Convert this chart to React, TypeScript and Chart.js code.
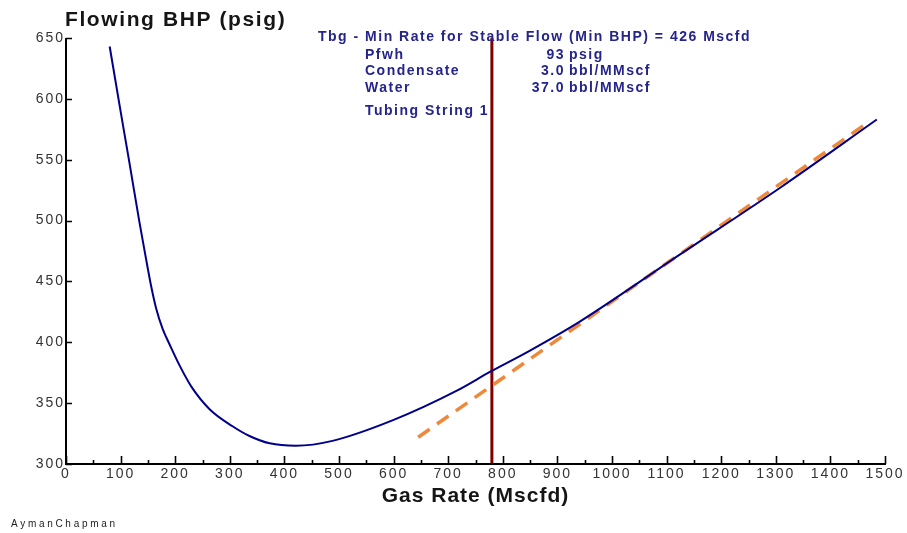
import React, { useEffect, useRef } from "react";
import { Chart, registerables } from "chart.js";

Chart.register(...registerables);

// Tubing performance curve: flowing bottom-hole pressure vs gas rate
const curveRate = [80, 98, 116, 134, 146, 156, 165, 177, 190, 208, 229, 263, 305, 336, 373, 421, 488, 599, 715, 778, 849, 941, 1124, 1308, 1485];
const curveBhp = [643, 595, 548, 500, 470, 446, 428, 411, 398, 381, 364, 345, 331, 323, 317, 315, 319, 336, 360, 376, 393, 417, 472, 527, 583];

// Straight-line trend (dashed)
const trendRate = [645, 1470];
const trendBhp = [322, 581];

// Minimum rate for stable flow marker
const stableRate = 780;

// Axis ticks
const rateTicks = [0, 100, 200, 300, 400, 500, 600, 700, 800, 900, 1000, 1100, 1200, 1300, 1400, 1500];
const bhpTicks = [300, 350, 400, 450, 500, 550, 600, 650];

// Annotation block
const headline = "Tbg - Min Rate for Stable Flow (Min BHP) = 426 Mscfd";
const infoLabels = ["Pfwh", "Condensate", "Water"];
const infoValues = ["93", "3.0", "37.0"];
const infoUnits = ["psig", "bbl/MMscf", "bbl/MMscf"];
const stringName = "Tubing String 1";

const FONT = "'Liberation Sans', Arial, sans-serif";

const decorPlugin = {
  id: "decor",
  beforeDraw(chart: any) {
    // wide tracking for the tick labels
    (chart.ctx as any).letterSpacing = "2px";
  },
  afterDraw(chart: any) {
    const ctx = chart.ctx as CanvasRenderingContext2D & { letterSpacing: string };
    const a = chart.chartArea;
    const xs = chart.scales.x;
    const ys = chart.scales.y;
    ctx.save();

    // axis lines
    ctx.strokeStyle = "#000";
    ctx.lineWidth = 2;
    ctx.beginPath();
    ctx.moveTo(a.left, a.top);
    ctx.lineTo(a.left, a.bottom);
    ctx.lineTo(a.right + 1, a.bottom);
    ctx.stroke();

    // inward tick marks
    ctx.lineWidth = 1.6;
    ctx.beginPath();
    for (let i = 0; i < rateTicks.length; i++) {
      const px = Math.round(xs.getPixelForValue(rateTicks[i])) + 0.5;
      ctx.moveTo(px, a.bottom);
      ctx.lineTo(px, a.bottom - 8);
      if (i < rateTicks.length - 1) {
        const mx = Math.round(xs.getPixelForValue((rateTicks[i] + rateTicks[i + 1]) / 2)) + 0.5;
        ctx.moveTo(mx, a.bottom);
        ctx.lineTo(mx, a.bottom - 4);
      }
    }
    for (const v of bhpTicks) {
      const py = Math.round(ys.getPixelForValue(v)) + 0.5;
      ctx.moveTo(a.left, py);
      ctx.lineTo(a.left + 6, py);
    }
    ctx.stroke();

    // titles
    ctx.fillStyle = "#151515";
    ctx.textBaseline = "alphabetic";
    ctx.font = `bold 21px ${FONT}`;
    ctx.letterSpacing = "1.6px";
    ctx.textAlign = "left";
    ctx.fillText("Flowing BHP (psig)", 65, 26);
    ctx.letterSpacing = "1px";
    ctx.textAlign = "center";
    ctx.fillText("Gas Rate (Mscfd)", (a.left + a.right) / 2, 502);

    // annotation block
    ctx.fillStyle = "#24248c";
    ctx.font = `bold 14px ${FONT}`;
    ctx.letterSpacing = "1.5px";
    ctx.textAlign = "left";
    ctx.fillText(headline, 318, 41);
    const rows = [59, 75, 91.5];
    infoLabels.forEach((lab, i) => {
      ctx.textAlign = "left";
      ctx.fillText(lab, 365, rows[i]);
      ctx.textAlign = "right";
      ctx.fillText(infoValues[i], 565, rows[i]);
      ctx.textAlign = "left";
      ctx.fillText(infoUnits[i], 569, rows[i]);
    });
    ctx.fillText(stringName, 365, 115);

    // footer
    ctx.fillStyle = "#222";
    ctx.font = `10px ${FONT}`;
    ctx.letterSpacing = "2.7px";
    ctx.fillText("AymanChapman", 11, 527);

    ctx.restore();
  },
};

export default function App() {
  const ref = useRef<HTMLCanvasElement | null>(null);

  useEffect(() => {
    if (!ref.current) return;
    document.body.style.margin = "0";
    const chart = new Chart(ref.current, {
      type: "line",
      data: {
        datasets: [
          {
            label: "BHP",
            data: curveRate.map((r, i) => ({ x: r, y: curveBhp[i] })),
            borderColor: "#000088",
            borderWidth: 2,
            pointRadius: 0,
            cubicInterpolationMode: "monotone",
            fill: false,
          },
          {
            label: "Trend",
            data: trendRate.map((r, i) => ({ x: r, y: trendBhp[i] })),
            borderColor: "#F0883C",
            borderWidth: 3.5,
            borderDash: [14, 9],
            pointRadius: 0,
            fill: false,
          },
          {
            label: "Stable rate",
            data: [
              { x: stableRate, y: bhpTicks[0] },
              { x: stableRate, y: bhpTicks[bhpTicks.length - 1] },
            ],
            borderColor: "#800000",
            borderWidth: 3,
            pointRadius: 0,
            fill: false,
          },
        ],
      },
      options: {
        responsive: false,
        animation: false,
        devicePixelRatio: 1,
        layout: { padding: { top: 38, right: 22, left: 0, bottom: 0 } },
        plugins: {
          legend: { display: false },
          tooltip: { enabled: false },
          title: { display: false },
        },
        scales: {
          x: {
            type: "linear",
            min: rateTicks[0],
            max: rateTicks[rateTicks.length - 1],
            afterBuildTicks: (s: any) => {
              s.ticks = rateTicks.map((v) => ({ value: v }));
            },
            afterFit: (s: any) => {
              s.height = 69;
            },
            grid: { display: false, drawTicks: false },
            border: { display: false },
            ticks: {
              autoSkip: false,
              maxRotation: 0,
              padding: 2,
              color: "#333",
              font: { family: FONT, size: 14 },
              callback: (v: any) => String(v),
            },
          },
          y: {
            type: "linear",
            min: bhpTicks[0],
            max: bhpTicks[bhpTicks.length - 1],
            afterBuildTicks: (s: any) => {
              s.ticks = bhpTicks.map((v) => ({ value: v }));
            },
            afterFit: (s: any) => {
              s.width = 66;
            },
            grid: { display: false, drawTicks: false },
            border: { display: false },
            ticks: {
              autoSkip: false,
              padding: 1,
              color: "#333",
              font: { family: FONT, size: 14 },
              callback: (v: any) => String(v),
            },
          },
        },
      },
      plugins: [decorPlugin],
    } as any);
    return () => chart.destroy();
  }, []);

  return (
    <div style={{ position: "absolute", left: 0, top: 0, width: 907, height: 533, background: "#fff" }}>
      <canvas ref={ref} width={907} height={533} style={{ display: "block" }} />
    </div>
  );
}
